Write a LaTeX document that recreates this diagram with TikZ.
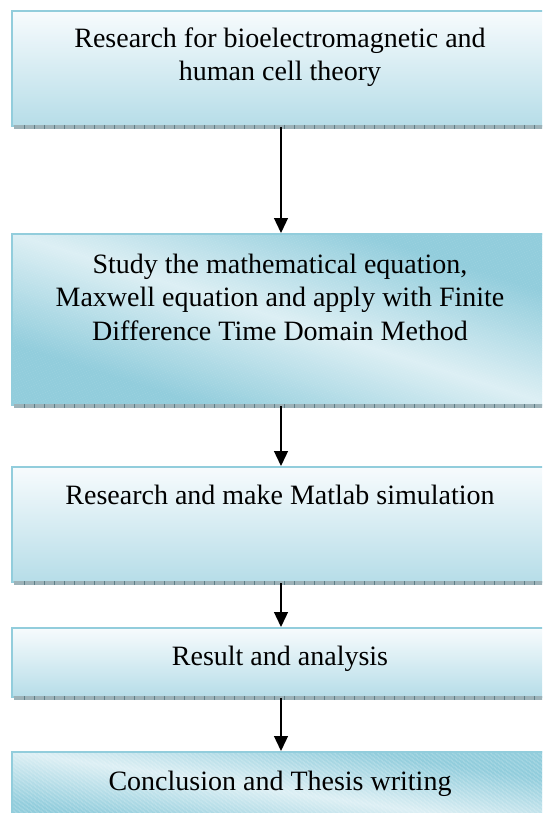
\documentclass[tikz,border=0pt]{standalone}
\usepackage{fontspec}
\setmainfont{Liberation Serif}
\usetikzlibrary{arrows.meta,positioning}
\definecolor{bordc}{HTML}{92CDDC}
\definecolor{lowc}{HTML}{B6DDE8}
\definecolor{topc}{HTML}{F7FBFD}
\definecolor{lightc}{HTML}{DDEFF4}
\definecolor{darkc}{HTML}{92CDDC}
\definecolor{shadc}{HTML}{9DB2B8}
\definecolor{tickc}{HTML}{5F7F88}
\tikzset{
  box/.style={rectangle, draw=bordc, line width=2pt, anchor=north west, inner sep=0pt, minimum width=538pt},
  vgrad/.style={box, top color=topc, bottom color=lowc},
  dbox/.style={box},
  label/.style={font=\fontsize{28}{33.5}\selectfont, align=center, inner sep=0pt},
  arr/.style={-{Triangle[length=15pt,width=14pt]}, line width=1.3pt, black}
}
\newcommand{\shadowstrip}[1]{%
  \fill[shadc] (14,#1) rectangle (549,#1+4);
  \foreach \xx in {24,34,...,544} {\draw[tickc, line width=0.8pt] (\xx,#1) -- (\xx,#1+4);}
}
% diagonal band fill: #1 x0, #2 y0, #3 w, #4 h (y downward)
\newcommand{\diagfill}[4]{%
  \begin{scope}
    \clip (#1,#2) rectangle ++(#3,#4);
    \foreach \k in {-100,...,99} {
      \pgfmathsetmacro\pct{max(0,100-100*abs(\k+0.5)/65)}
      \pgfmathsetmacro\sa{#3/100*\k}
      \pgfmathsetmacro\sb{#3/100*(\k+1)+1}
      \fill[lightc!\pct!darkc] (#1+\sa,#2) -- (#1+\sb,#2) -- (#1+\sb+#3,#2+#4) -- (#1+\sa+#3,#2+#4) -- cycle;
    }
  \end{scope}
}
\begin{document}
\begin{tikzpicture}[x=1pt,y=-1pt]
\useasboundingbox (0,0) rectangle (542,813);
\clip (0,0) rectangle (542,813);
\diagfill{11}{233}{538}{171}
\diagfill{11}{751}{538}{80}
\node[vgrad, minimum height=115pt] (b1) at (11,10) {};
\node[dbox, minimum height=171pt] (b2) at (11,233) {};
\node[vgrad, minimum height=115pt] (b3) at (11,466) {};
\node[vgrad, minimum height=69pt] (b4) at (11,627) {};
\node[dbox, minimum height=80pt] (b5) at (11,751) {};
\shadowstrip{125}
\shadowstrip{404}
\shadowstrip{581}
\shadowstrip{696}
\node[label, anchor=base] (t1) at (280,81) {Research for bioelectromagnetic and\\human cell theory};
\node[label, anchor=base] (t2) at (280,340) {Study the mathematical equation,\\Maxwell equation and apply with Finite\\Difference Time Domain Method};
\node[label, anchor=base] (t3) at (280,504) {Research and make Matlab simulation};
\node[label, anchor=base] (t4) at (280,665) {Result and analysis};
\node[label, anchor=base] (t5) at (280,790) {Conclusion and Thesis writing};
\draw[arr] (b1.south) -- (b2.north);
\draw[arr] (b2.south) -- (b3.north);
\draw[arr] (b3.south) -- (b4.north);
\draw[arr] (b4.south) -- (b5.north);
\end{tikzpicture}
\end{document}
